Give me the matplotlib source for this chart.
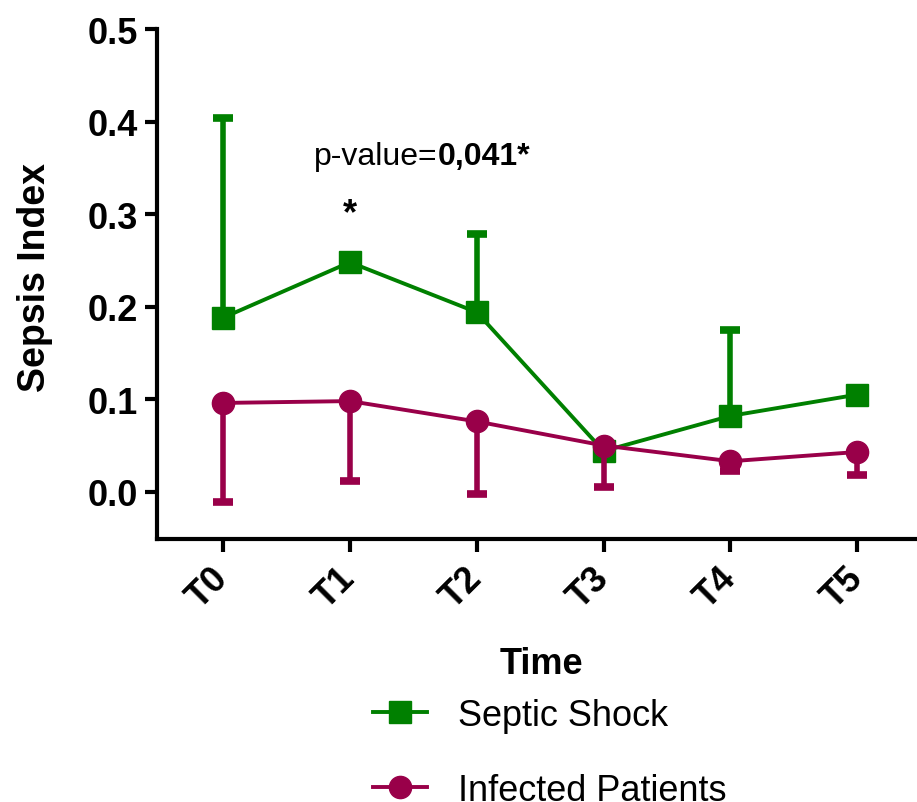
import numpy as np
import matplotlib
matplotlib.use("Agg")
import matplotlib.pyplot as plt

plt.rcParams['font.family'] = ['Liberation Sans', 'DejaVu Sans']

# Sepsis index by time point (mean with one-sided error)
time_points = ['T0', 'T1', 'T2', 'T3', 'T4', 'T5']
septic_mean = [0.188, 0.248, 0.194, 0.044, 0.082, 0.105]
septic_err_up = [0.216, 0.0, 0.084, 0.0, 0.093, 0.0]
infected_mean = [0.096, 0.098, 0.076, 0.050, 0.033, 0.043]
infected_err_down = [0.107, 0.086, 0.078, 0.045, 0.010, 0.025]
y_ticks = [0.0, 0.1, 0.2, 0.3, 0.4, 0.5]

GREEN = '#008000'
MAGENTA = '#990049'

W, H = 917, 803
fig = plt.figure(figsize=(W / 100, H / 100), dpi=100)
ax = fig.add_axes([157 / W, 1 - 540 / H, 1 - 157 / W, (540 - 30) / H])

x = np.arange(len(time_points))

def draw_series(mean, err, upper, color, marker, label, z):
    mean = np.asarray(mean)
    err = np.asarray(err)
    ax.plot(x, mean, color=color, lw=2.8, marker=marker, ms=16,
            mec=color, mfc=color, label=label, zorder=z + 1)
    keep = err > 0
    zeros = np.zeros(keep.sum())
    yerr = [zeros, err[keep]] if upper else [err[keep], zeros]
    ax.errorbar(x[keep], mean[keep], yerr=yerr, fmt='none', ecolor=color,
                elinewidth=4.0, capsize=7.5, capthick=5.5, zorder=z)

draw_series(septic_mean, septic_err_up, True, GREEN, 's', 'Septic Shock', 2)
draw_series(infected_mean, infected_err_down, False, MAGENTA, 'o', 'Infected Patients', 4)

ax.set_xlim(-0.52, 5.47)
ax.set_ylim(-0.051, 0.5)
ax.set_yticks(y_ticks)
ax.set_yticklabels([f'{v:.1f}' for v in y_ticks])
ax.set_xticks(x)
ax.set_xticklabels(time_points, rotation=45, ha='right', va='center',
                   rotation_mode='anchor')

for side in ('top', 'right'):
    ax.spines[side].set_visible(False)
for side in ('left', 'bottom'):
    ax.spines[side].set_linewidth(3.0)
    ax.spines[side].set_capstyle('projecting')

ax.tick_params(axis='both', direction='out', length=9, width=3, labelsize=26)
ax.tick_params(axis='y', pad=5)
ax.tick_params(axis='x', pad=15)
for lab in ax.get_xticklabels() + ax.get_yticklabels():
    lab.set_fontweight('bold')

fig.text(35 / W, 1 - 278 / H, 'Sepsis Index', rotation=90, ha='center',
         va='center', fontsize=27, fontweight='bold')
fig.text(541 / W, 1 - 665 / H, 'Time', ha='center', va='center',
         fontsize=26, fontweight='bold')

# significance annotation at T1
ax.text(1, 0.300, '*', ha='center', va='center', fontsize=26, fontweight='bold')
t1 = ax.text(0.715, 0.354, 'p-value=', ha='left', va='baseline', fontsize=23)
ax.annotate('0,041*', xy=(1, 0), xycoords=t1, ha='left', va='bottom',
            fontsize=23, fontweight='bold')

fig.legend(loc='upper left', bbox_to_anchor=(373 / W, 1 - 699 / H),
           frameon=False, fontsize=26, handlelength=1.5, handletextpad=0.85,
           labelspacing=1.1, borderpad=0, borderaxespad=0, markerscale=1.0)

fig.savefig('out.png', dpi=100)
